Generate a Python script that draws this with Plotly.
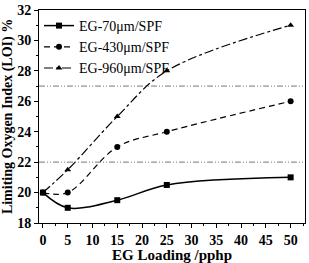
import plotly.graph_objects as go

loading = [0, 5, 15, 25, 50]
eg70 = [20, 19, 19.5, 20.5, 21]
eg430 = [20, 20, 23, 24, 26]
eg960 = [20, 21.5, 25, 28, 31]
names = ["EG-70μm/SPF", "EG-430μm/SPF", "EG-960μm/SPF"]
ref_levels = [22, 27]

fig = go.Figure()
for lv in ref_levels:
    fig.add_hline(y=lv, line=dict(color="#555555", width=0.8, dash="6px,2px,1px,2px,1px,2px"))

specs = [(eg70, "solid", "square", 1.5), (eg430, "6px,4px", "circle", 1.2), (eg960, "dashdot", "triangle-up", 1.2)]
for (ys, dash, sym, w), nm in zip(specs, names):
    fig.add_trace(go.Scatter(
        x=loading, y=ys, name=nm, mode="lines+markers",
        line=dict(color="black", width=w, dash=dash, shape="spline", smoothing=1.0),
        marker=dict(symbol=sym, size=6, color="black"),
    ))

font = "Liberation Serif, Times New Roman, serif"
fig.update_layout(
    width=309, height=263,
    margin=dict(l=39, r=3, t=8, b=39),
    plot_bgcolor="white", paper_bgcolor="white",
    font=dict(family=font, color="black"),
    showlegend=True,
    legend=dict(x=0.0, y=1.0, xanchor="left", yanchor="top", bgcolor="rgba(0,0,0,0)",
                font=dict(size=14, family=font), tracegroupgap=0, itemwidth=30),
)
fig.update_xaxes(
    range=[-0.8, 52.9], tickmode="array", tickvals=list(range(0, 51, 5)),
    ticks="outside", ticklen=4, tickwidth=1, tickcolor="black",
    minor=dict(ticks="outside", ticklen=2, dtick=2.5, tick0=0, tickcolor="black"),
    showline=True, linecolor="black", linewidth=1, mirror=True, showgrid=False, zeroline=False,
    tickfont=dict(size=14, family=font, weight="bold"),
    title=dict(text="EG Loading /pphp", font=dict(size=15, family=font, weight="bold"), standoff=2),
)
fig.update_yaxes(
    range=[18, 32], tickmode="array", tickvals=list(range(18, 33, 2)),
    ticks="outside", ticklen=4, tickwidth=1, tickcolor="black",
    minor=dict(ticks="outside", ticklen=2, dtick=1, tick0=18, tickcolor="black"),
    showline=True, linecolor="black", linewidth=1, mirror=True, showgrid=False, zeroline=False,
    tickfont=dict(size=14, family=font, weight="bold"),
    title=dict(text="Limiting Oxygen Index (LOI) %", font=dict(size=14, family=font, weight="bold"), standoff=1),
)
fig.write_html("out.html", config={"displayModeBar": False},
               post_script="document.body.style.margin='0';")
